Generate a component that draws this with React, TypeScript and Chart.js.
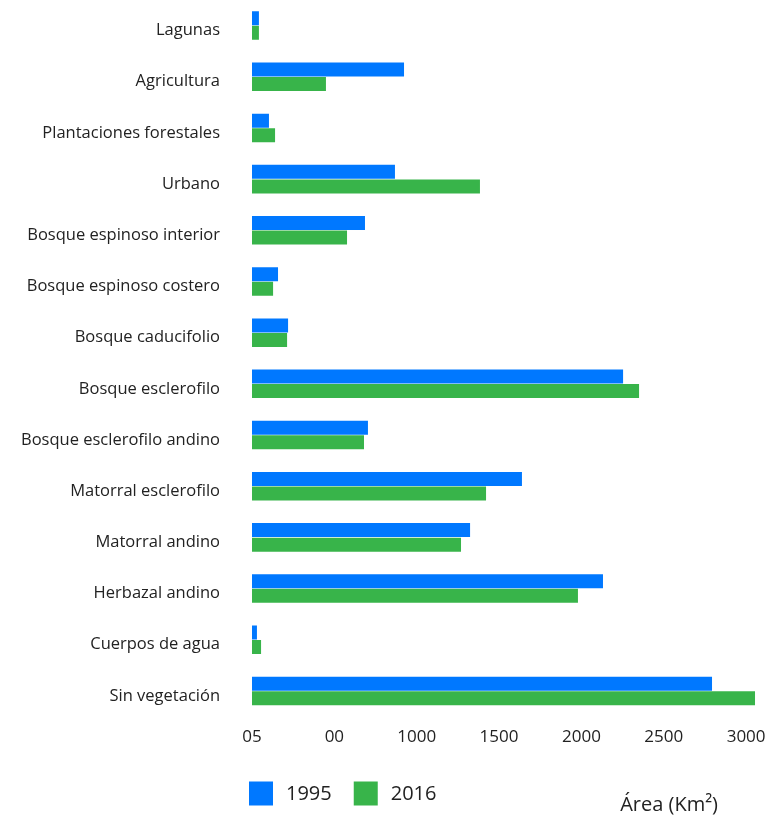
import React, { useEffect, useRef } from 'react';
import { Chart, registerables } from 'chart.js';

Chart.register(...registerables);

const categories = [
  'Lagunas',
  'Agricultura',
  'Plantaciones forestales',
  'Urbano',
  'Bosque espinoso interior',
  'Bosque espinoso costero',
  'Bosque caducifolio',
  'Bosque esclerofilo',
  'Bosque esclerofilo andino',
  'Matorral esclerofilo',
  'Matorral andino',
  'Herbazal andino',
  'Cuerpos de agua',
  'Sin vegetación',
];
const values1995 = [42, 923, 103, 868, 686, 158, 219, 2253, 704, 1639, 1324, 2131, 30, 2793];
const values2016 = [42, 449, 140, 1384, 577, 128, 213, 2350, 680, 1421, 1269, 1979, 55, 3054];
const seriesLabels = ['1995', '2016'];
const tickValues = [0, 500, 1000, 1500, 2000, 2500, 3000];
const tickLabels = ['05', '00', '1000', '1500', '2000', '2500', '3000'];
const axisTitle = 'Área (Km²)';

const BLUE = '#0078FF';
const GREEN = '#38B44A';
const FONT = '"Open Sans", sans-serif';

const overlayPlugin = {
  id: 'overlay',
  afterDraw(chart: any) {
    const { ctx, chartArea } = chart;
    ctx.save();
    // legend
    const legendCenterY = chartArea.bottom + 77;
    let x = chartArea.left - 3;
    ctx.font = `400 20px ${FONT}`;
    ctx.textBaseline = 'middle';
    ctx.textAlign = 'left';
    chart.data.datasets.forEach((ds: any) => {
      ctx.fillStyle = ds.backgroundColor;
      ctx.fillRect(x, legendCenterY - 12, 24, 24);
      ctx.fillStyle = '#222';
      const tx = x + 24 + 13;
      ctx.fillText(ds.label, tx, legendCenterY + 1);
      x = tx + ctx.measureText(ds.label).width + 22;
    });
    // axis title
    ctx.font = `400 20px ${FONT}`;
    ctx.textAlign = 'right';
    ctx.textBaseline = 'alphabetic';
    ctx.fillStyle = '#222';
    ctx.fillText(axisTitle, chartArea.right - 38, chartArea.bottom + 94);
    ctx.restore();
  },
};

export default function App() {
  const canvasRef = useRef<HTMLCanvasElement>(null);

  useEffect(() => {
    if (!canvasRef.current) return;
    const chart = new Chart(canvasRef.current, {
      type: 'bar',
      data: {
        labels: categories,
        datasets: [
          {
            label: seriesLabels[0],
            data: values1995,
            backgroundColor: BLUE,
            borderWidth: 0,
            categoryPercentage: 0.5675,
            barPercentage: 0.965,
          },
          {
            label: seriesLabels[1],
            data: values2016,
            backgroundColor: GREEN,
            borderWidth: 0,
            categoryPercentage: 0.5675,
            barPercentage: 0.965,
          },
        ],
      },
      options: {
        indexAxis: 'y',
        responsive: false,
        animation: false,
        layout: { padding: { top: 0, right: 11, bottom: 0, left: 0 } },
        plugins: {
          legend: { display: false },
          tooltip: { enabled: false },
          title: { display: false },
        },
        scales: {
          x: {
            type: 'linear',
            min: 0,
            max: 3060,
            grid: { display: false, drawTicks: false },
            border: { display: false },
            afterBuildTicks: (scale: any) => {
              scale.ticks = tickValues.map((v) => ({ value: v }));
            },
            ticks: {
              includeBounds: false,
              autoSkip: false,
              padding: 10,
              color: '#222',
              font: { family: FONT, size: 17 },
              maxRotation: 0,
              callback: (v: any) => {
                const i = tickValues.indexOf(Number(v));
                return i >= 0 ? tickLabels[i] : '';
              },
            },
            afterFit: (scale: any) => {
              scale.height = 98.5;
              scale.paddingLeft = 0;
              scale.paddingRight = 0;
            },
          },
          y: {
            grid: { display: false, drawTicks: false },
            border: { display: false },
            ticks: {
              padding: 32,
              labelOffset: 5,
              color: '#222',
              font: { family: FONT, size: 16.5 },
              autoSkip: false,
            },
            afterFit: (scale: any) => {
              scale.width = 252;
              scale.paddingTop = 0;
              scale.paddingBottom = 0;
            },
          },
        },
      },
      plugins: [overlayPlugin],
    });
    return () => chart.destroy();
  }, []);

  return (
    <div style={{ position: 'absolute', left: 0, top: 0, width: 767, height: 815, background: '#fff' }}>
      <canvas ref={canvasRef} width={767} height={815} style={{ display: 'block', width: 767, height: 815 }} />
    </div>
  );
}
